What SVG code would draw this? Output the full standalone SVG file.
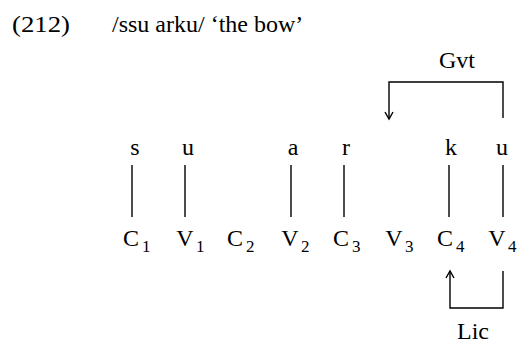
<svg xmlns="http://www.w3.org/2000/svg" width="521" height="344" viewBox="0 0 521 344">
<defs>
<style>
text{font-family:"Liberation Serif","DejaVu Serif",serif;font-size:24px;fill:#000}
.m{text-anchor:middle}
.s{font-size:17px}
line,polyline,path{stroke:#000;stroke-width:1.4;fill:none}
</style>
</defs>
<rect width="521" height="344" fill="#fff"/>
<g id="title">
<text x="12" y="32" textLength="58" lengthAdjust="spacingAndGlyphs">(212)</text>
<text x="112" y="32">/ssu arku/ ‘the bow’</text>
</g>
<g id="segments">
<text class="m" x="135" y="155">s</text>
<text class="m" x="188" y="155">u</text>
<text class="m" x="293" y="155">a</text>
<text class="m" x="346" y="155">r</text>
<text class="m" x="451" y="155">k</text>
<text class="m" x="502" y="155">u</text>
</g>
<g id="skeleton">
<g id="C1"><text class="m" x="131" y="246">C</text><text class="s" x="142" y="252">1</text></g>
<g id="V1"><text class="m" x="185" y="246">V</text><text class="s" x="196" y="252">1</text></g>
<g id="C2"><text class="m" x="235" y="246">C</text><text class="s" x="246" y="252">2</text></g>
<g id="V2"><text class="m" x="290" y="246">V</text><text class="s" x="301" y="252">2</text></g>
<g id="C3"><text class="m" x="341" y="246">C</text><text class="s" x="352" y="252">3</text></g>
<g id="V3"><text class="m" x="394" y="246">V</text><text class="s" x="405" y="252">3</text></g>
<g id="C4"><text class="m" x="445" y="246">C</text><text class="s" x="456" y="252">4</text></g>
<g id="V4"><text class="m" x="497" y="246">V</text><text class="s" x="508" y="252">4</text></g>
</g>
<g id="labels">
<text class="m" x="457" y="68">Gvt</text>
<text class="m" x="473" y="339">Lic</text>
</g>
<g id="connectors">
<line x1="132" y1="165" x2="132" y2="217"/>
<line x1="185" y1="165" x2="185" y2="217"/>
<line x1="291" y1="165" x2="291" y2="217"/>
<line x1="344" y1="165" x2="344" y2="217"/>
<line x1="449" y1="165" x2="449" y2="217"/>
<line x1="503" y1="165" x2="503" y2="217"/>
<polyline points="503,118 503,82 389,82 389,119"/>
<path d="M385,112 L389,119 L393,112"/>
<polyline points="503,271 503,308 450,308 450,271"/>
<path d="M446,278 L450,271 L454,278"/>
</g>
</svg>
